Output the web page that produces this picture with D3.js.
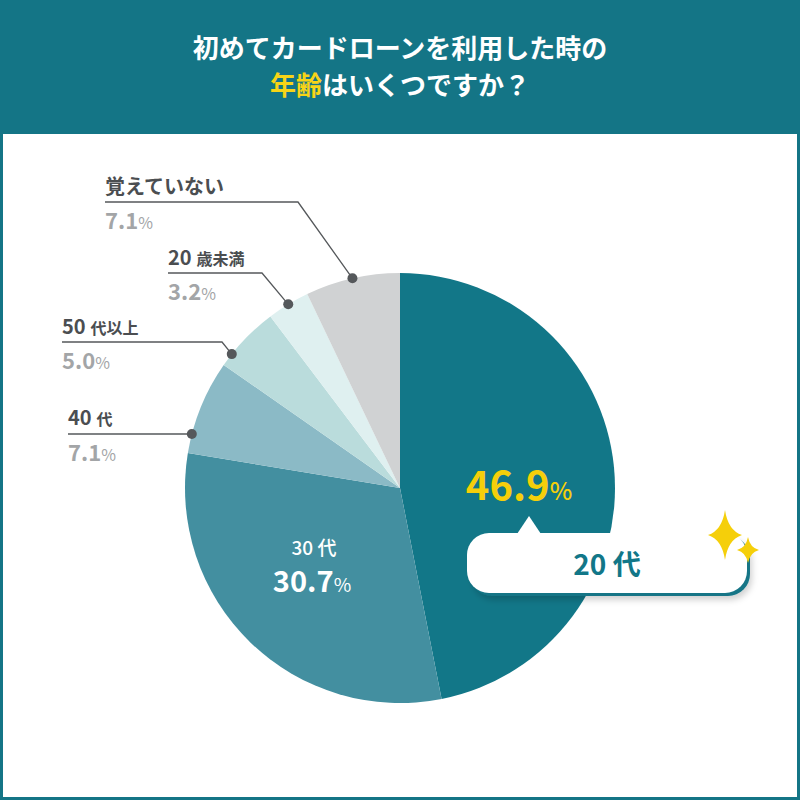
<!DOCTYPE html>
<html><head><meta charset="utf-8">
<script src="https://cdn.jsdelivr.net/npm/d3@7"></script>
<style>
html,body{margin:0;padding:0;background:#fff;}
svg{display:block;font-family:"Noto Sans CJK JP","Noto Sans",sans-serif;}
</style></head>
<body>
<svg id="c" width="800" height="800"></svg>
<script>
const categories = ["20代","30代","40代","50代以上","20歳未満","覚えていない"];
const values = [46.9, 30.7, 7.1, 5.0, 3.2, 7.1];
const colors = ["#127788","#438fa0","#8bbac6","#badcdc","#dff0f0","#d0d2d3"];
const titleLine1 = "初めてカードローンを利用した時の";
const titleHighlight = "年齢";
const titleRest = "はいくつですか？";

const svg = d3.select("#c");
const W = 800, H = 800;
const teal = "#147586";

// frame & header
svg.append("rect").attr("x",0).attr("y",0).attr("width",W).attr("height",H).attr("fill",teal);
svg.append("rect").attr("x",3).attr("y",134).attr("width",W-6).attr("height",H-137).attr("fill","#fff");

svg.append("text").attr("x",400).attr("y",58).attr("text-anchor","middle")
  .attr("fill","#fff").attr("font-size",26).attr("font-weight",700).text(titleLine1);
const t2 = svg.append("text").attr("x",400).attr("y",95).attr("text-anchor","middle")
  .attr("font-size",26).attr("font-weight",700);
t2.append("tspan").attr("fill","#f7d417").text(titleHighlight);
t2.append("tspan").attr("fill","#fff").text(titleRest);

// pie
const cx = 400, cy = 488, R = 215;
const data = categories.map((c,i)=>({cat:c, value:values[i], color:colors[i]}));
const pie = d3.pie().value(d=>d.value).sort(null);
const arcs = pie(data);
const arc = d3.arc().innerRadius(0).outerRadius(R);
const g = svg.append("g").attr("transform",`translate(${cx},${cy})`);
g.selectAll("path").data(arcs).enter().append("path")
  .attr("d",arc).attr("fill",d=>d.data.color);

// outside labels (for small slices)
const outLabels = [
  {i:5, tx:105, ty:194, ly:202, ex:298, frac:0.5},
  {i:4, tx:168, ty:265, ly:273, ex:262, frac:0.5},
  {i:3, tx:62,  ty:334, ly:342, ex:222, frac:0.2},
  {i:2, tx:68,  ty:425, ly:434, ex:null, frac:0.2}
];
const pct = d3.format(".1f");
outLabels.forEach(L=>{
  const a = arcs[L.i];
  const ang = a.startAngle + (a.endAngle - a.startAngle)*L.frac;
  const dx = cx + Math.sin(ang)*R, dy = cy - Math.cos(ang)*R;
  let pts;
  if (L.ex === null) pts = [[L.tx, L.ly],[dx, L.ly]];
  else pts = [[L.tx, L.ly],[L.ex, L.ly],[dx, dy]];
  svg.append("path").attr("d", d3.line()(pts)).attr("fill","none")
    .attr("stroke","#55585b").attr("stroke-width",1.3);
  svg.append("circle").attr("cx", dx).attr("cy", L.ex===null?L.ly:dy)
    .attr("r",5).attr("fill","#55585b");
  const cat = categories[L.i];
  const m = cat.match(/^(\d+)(.*)$/);
  const lt = svg.append("text").attr("x",L.tx).attr("y",L.ty).attr("fill","#4b4e51")
    .attr("font-weight",700);
  if (m) {
    lt.append("tspan").attr("font-size",20).text(m[1]);
    lt.append("tspan").attr("font-size",16).attr("dx",5).text(m[2]);
  } else {
    lt.attr("font-size",20).text(cat);
  }
  const pt = svg.append("text").attr("x",L.tx).attr("y",L.ly+27).attr("fill","#a3a5a7")
    .attr("font-weight",700);
  pt.append("tspan").attr("font-size",22).text(pct(values[L.i]));
  pt.append("tspan").attr("font-size",16).attr("font-weight",400).text("%");
});

// 30代 inner label
svg.append("text").attr("x",314).attr("y",555).attr("text-anchor","middle")
  .attr("fill","#fff").attr("font-weight",500).attr("font-size",19).text("30 代");
const p30 = svg.append("text").attr("x",312).attr("y",592).attr("text-anchor","middle")
  .attr("fill","#fff").attr("font-weight",700);
p30.append("tspan").attr("font-size",29).text(pct(values[1]));
p30.append("tspan").attr("font-size",19).attr("font-weight",400).text("%");

// 20代 big label
const p20 = svg.append("text").attr("x",519).attr("y",500).attr("text-anchor","middle")
  .attr("fill","#f5cf0a").attr("font-weight",700);
p20.append("tspan").attr("font-size",40).text(pct(values[0]));
p20.append("tspan").attr("font-size",24).attr("font-weight",500).text("%");

// callout
const defs = svg.append("defs");
const f = defs.append("filter").attr("id","sh").attr("x","-10%").attr("y","-30%").attr("width","130%").attr("height","180%");
f.append("feDropShadow").attr("dx",2).attr("dy",4).attr("stdDeviation",3).attr("flood-color","#000").attr("flood-opacity",0.18);
const bx=467, by=533, bw=280, bh=60;
svg.append("rect").attr("x",bx+3).attr("y",by+3).attr("width",bw).attr("height",bh)
  .attr("rx",22).attr("fill",teal).attr("filter","url(#sh)");
svg.append("rect").attr("x",bx).attr("y",by).attr("width",bw).attr("height",bh)
  .attr("rx",22).attr("fill","#fff");
svg.append("path").attr("d",d3.line()([[517,534],[529,516],[541,534]])).attr("fill","#fff");
svg.append("text").attr("x",607).attr("y",575).attr("text-anchor","middle")
  .attr("fill","#127788").attr("font-weight",700).attr("font-size",28).text("20 代");

// sparkles
function star(x,y,hw,hh){
  const k=0.18;
  return `M${x},${y-hh} Q${x+hw*k},${y-hh*k} ${x+hw},${y} Q${x+hw*k},${y+hh*k} ${x},${y+hh} Q${x-hw*k},${y+hh*k} ${x-hw},${y} Q${x-hw*k},${y-hh*k} ${x},${y-hh}Z`;
}
svg.append("path").attr("d",star(725,535,17,25)).attr("fill","#f5cf0a");
svg.append("path").attr("d",star(748,550,11,13)).attr("fill","#f5cf0a");
</script>
</body></html>
